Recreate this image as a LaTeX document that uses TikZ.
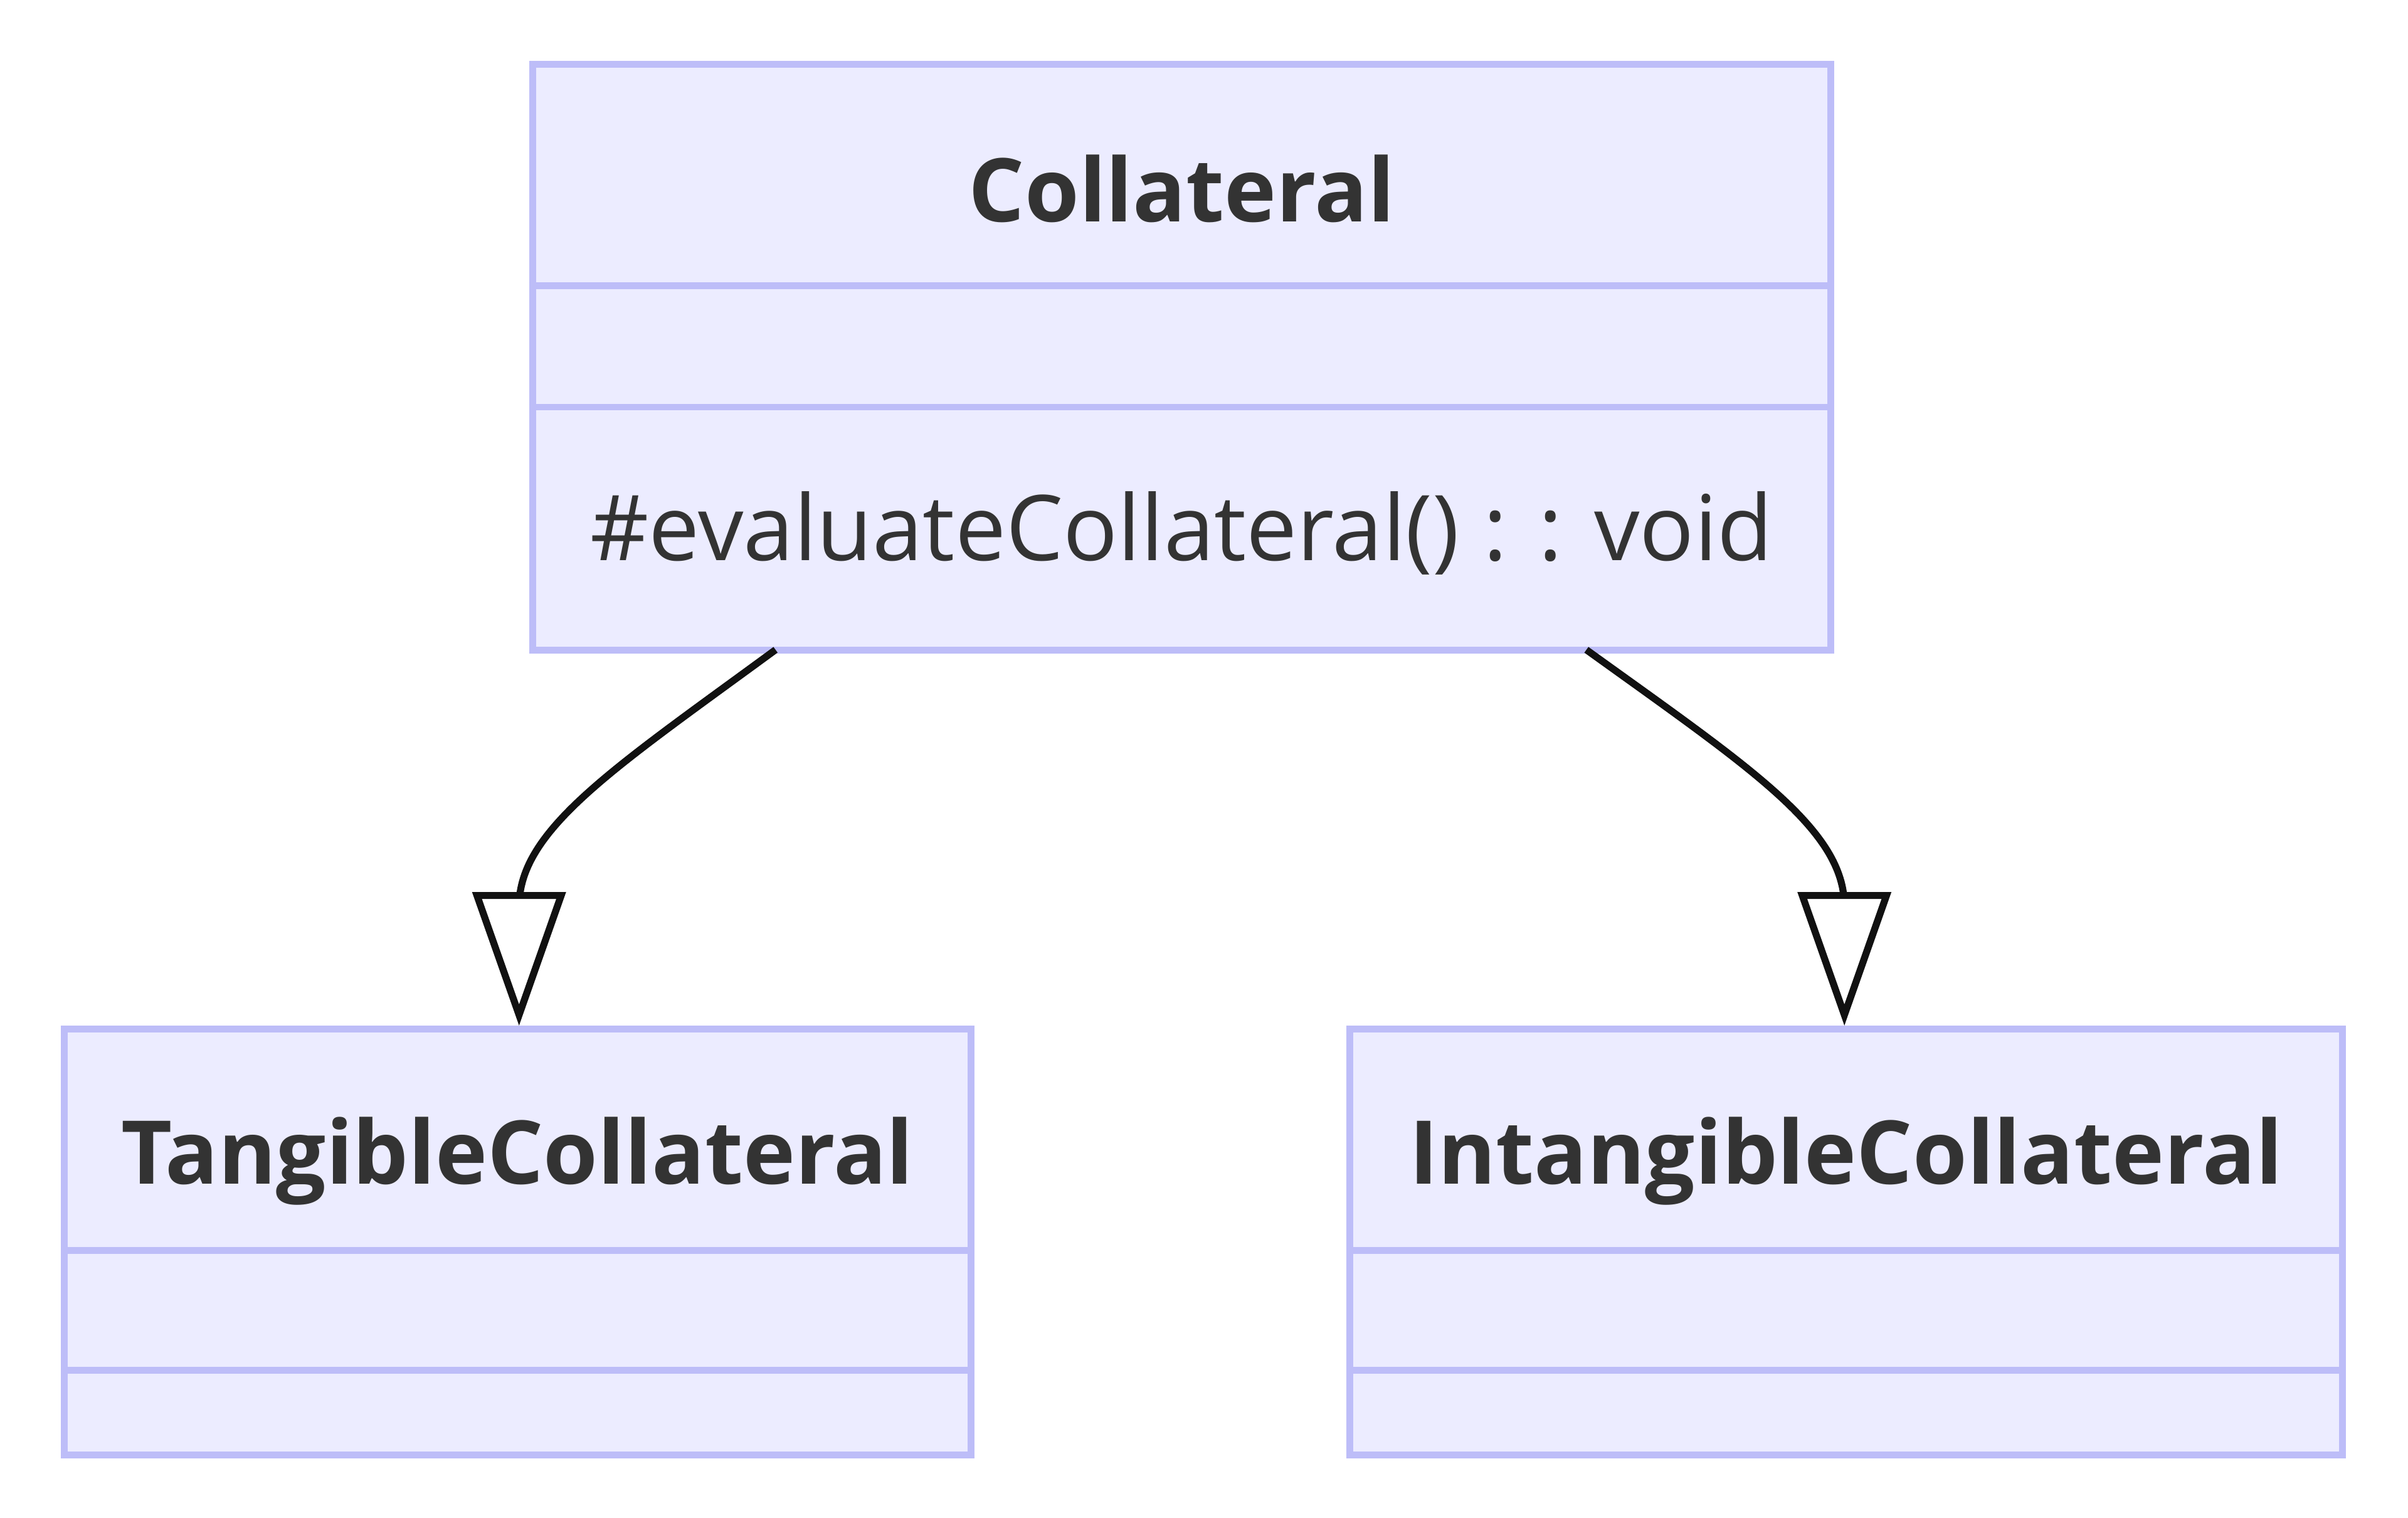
\documentclass[tikz,border=0pt]{standalone}
\usepackage{fontspec}
\setmainfont{Open Sans}
\usetikzlibrary{arrows.meta,positioning}

\definecolor{classfill}{RGB}{236,236,255}
\definecolor{classline}{RGB}{189,189,248}
\definecolor{classtext}{RGB}{51,51,51}
\definecolor{relline}{RGB}{17,17,17}

\tikzset{
  classbox/.style={draw=classline,fill=classfill,line width=1.25pt,inner sep=0pt},
  divider/.style={draw=classline,line width=1.25pt},
  classname/.style={text=classtext,font=\fontsize{16.3}{20}\selectfont\bfseries},
  member/.style={text=classtext,font=\fontsize{16.8}{20}\selectfont},
  inherit/.style={draw=relline,line width=1.3pt,-{Triangle[open,fill=white,length=0.87cm,width=0.60cm]}}
}

\begin{document}
\begin{tikzpicture}[x=0.01cm,y=0.01cm]
  \useasboundingbox (0,0) rectangle (1568,-988);
  % class boxes
  \node[classbox,minimum width=8.45cm,minimum height=3.81cm] (coll) at (769.5,-232.5) {};
  \node[classbox,minimum width=5.90cm,minimum height=2.77cm] (tang) at (337,-808.5) {};
  \node[classbox,minimum width=6.46cm,minimum height=2.77cm] (intang) at (1202,-808.5) {};
  % compartments
  \draw[divider] (coll.west |- 0,-186) -- (coll.east |- 0,-186);
  \draw[divider] (coll.west |- 0,-265) -- (coll.east |- 0,-265);
  \draw[divider] (tang.west |- 0,-814) -- (tang.east |- 0,-814);
  \draw[divider] (tang.west |- 0,-892) -- (tang.east |- 0,-892);
  \draw[divider] (intang.west |- 0,-814) -- (intang.east |- 0,-814);
  \draw[divider] (intang.west |- 0,-892) -- (intang.east |- 0,-892);
  % texts
  \node[classname] (collname) at (769.5,-123) {Collateral};
  \node[member] (collop) at (769.5,-347) {\#evaluateCollateral() : : void};
  \node[classname] (tangname) at (337,-756) {TangibleCollateral};
  \node[classname] (intangname) at (1202,-756) {IntangibleCollateral};
  % generalisation
  \coordinate (tangfrom) at (505,-423);
  \coordinate (intangfrom) at (1033,-423);
  \draw[inherit] (tangfrom) .. controls (400,-500) and (338,-540) .. (338,-590) -- (tang.north -| 338,0);
  \draw[inherit] (intangfrom) .. controls (1140,-500) and (1201,-540) .. (1201,-590) -- (intang.north -| 1201,0);
\end{tikzpicture}
\end{document}
